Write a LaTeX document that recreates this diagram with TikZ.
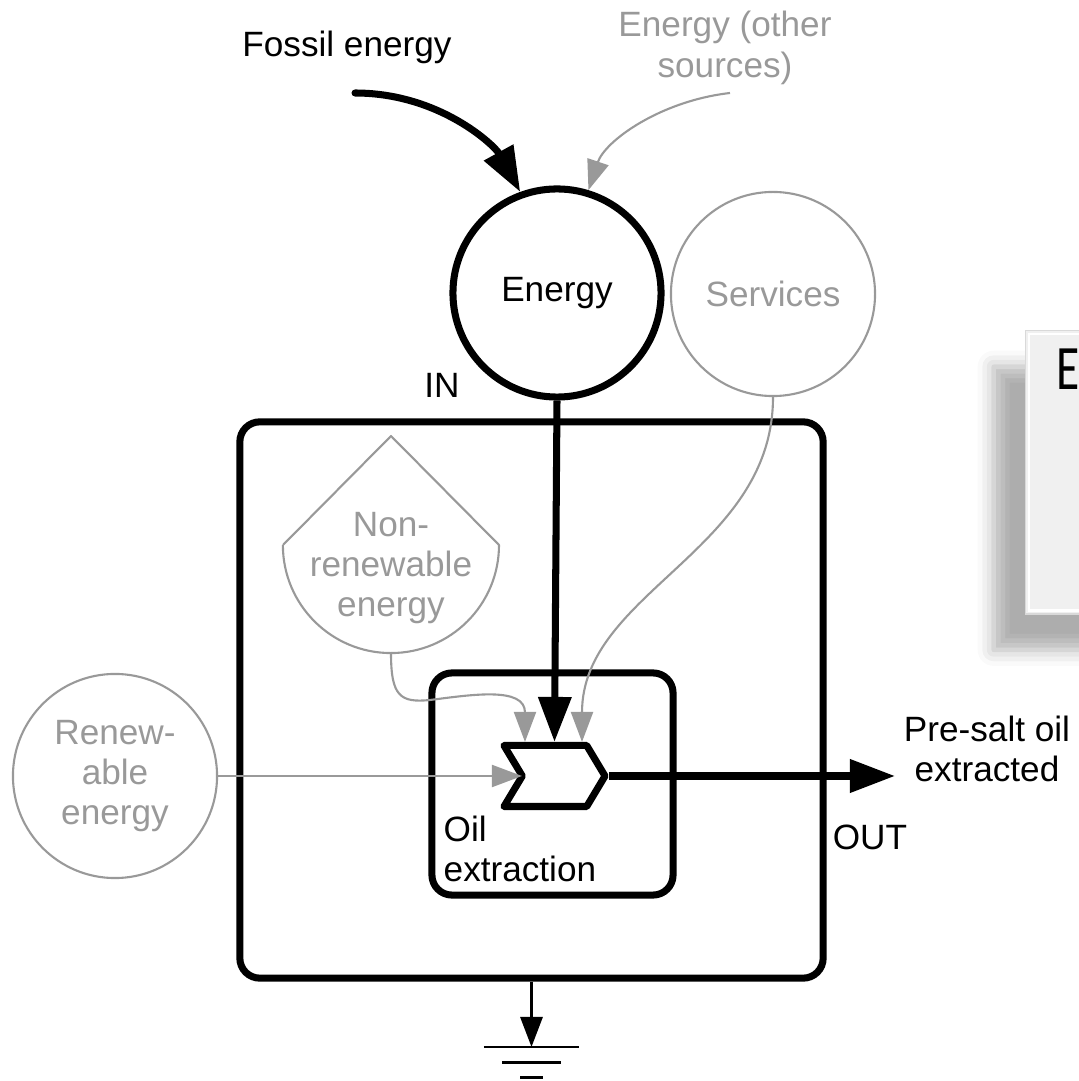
\documentclass[tikz,border=0pt]{standalone}
\usepackage{fontspec}
\setmainfont{Liberation Sans}
\newfontfamily\panelfont{Carlito}
\usepackage{tikz}
\usetikzlibrary{arrows.meta,
           shapes.symbols,            % pour le chevron
           shadows.blur,
           positioning}
\definecolor{flowgray}{RGB}{153,153,153}
\definecolor{panelgray}{RGB}{240,240,240}

\begin{document}
\begin{tikzpicture}[x=0.01cm,y=0.01cm,font=\fontsize{10}{11.5}\selectfont,
  thickflow/.style={line width=2pt,-{Triangle[length=0.45cm,width=0.32cm]}},
  thinflow/.style={flowgray,line width=0.6pt,-{Triangle[length=0.3cm,width=0.22cm]}},
  tank/.style={circle,draw,line width=2pt,minimum size=2.08cm,inner sep=0pt},
  extsource/.style={circle,draw=flowgray,text=flowgray,line width=0.6pt,minimum size=2.04cm,align=center,inner sep=0pt},
  sysbox/.style={draw,line width=2pt,rounded corners=0.2cm,inner sep=0pt}]
\useasboundingbox (0,0) rectangle (1079,1081);
% boites
\node[sysbox,minimum width=5.83cm,minimum height=5.56cm](sys)at(531.5,381){};
\node[sysbox,minimum width=2.41cm,minimum height=2.22cm](proc)at(552.5,297){};
\node[signal,signal to=east,signal from=west,signal pointer angle=118,draw,fill=white,
  line width=2pt,line join=round,minimum width=1.01cm,minimum height=0.61cm,inner sep=0pt](chev)at(554.5,305){};
\coordinate(notch)at([xshift=-0.325cm]chev.center);
\node[anchor=north west,align=left,inner sep=0pt](proclbl)at(443,266){Oil\\extraction};
% reservoirs et sources
\node[tank](en)at(557,788){Energy};
\node[extsource](srv)at(773,787){Services};
\node[extsource](ren)at(115,305){Renew-\\able\\energy};
\node[align=center,inner sep=0pt,text=flowgray](nre)at(391,513){Non-\\renewable\\energy};
\draw[flowgray,line width=0.6pt,line join=round](283,536)--(391,645)--(499,536)
  arc[start angle=0,end angle=-180,radius=1.08cm];
\coordinate(nrebot)at(391,428);
% textes
\node(fossillbl)at(347,1034){Fossil energy};
\node[align=center,text=flowgray](otherlbl)at(725,1033){Energy (other\\sources)};
\node(inlbl)at(442,696){IN};
\node(outlbl)at(870,244){OUT};
\node[align=center](prodlbl)at(987,332){Pre-salt oil\\extracted};
% flux
\coordinate(fossil)at(355,988);
\coordinate(other)at(730,988);
\coordinate(product)at(895,305);
\draw[thickflow,line cap=round](fossil)..controls(440,988)and(495,935)..(en.110);
\draw[thinflow](other)..controls(660,980)and(605,940)..(en.73);
\draw[thickflow](en.south)--(chev.north);
\draw[thinflow](srv.south)..controls(773,530)and(582,489)..([xshift=0.275cm]chev.north);
\draw[thinflow](nrebot)..controls(391,385)and(400,378)..(430,381)
  ..controls(470,386)and(525,395)..([xshift=-0.295cm]chev.north);
\draw[thinflow](ren.east)--(notch);
\draw[thickflow](chev.east)--(product);
% puits
\coordinate(gnd)at(sys.south|-0,34);
\draw[line width=0.85pt,-{Triangle[length=0.3cm,width=0.22cm]}](sys.south)--(gnd);
\draw[line width=0.85pt]([xshift=-0.475cm]gnd)--([xshift=0.475cm]gnd);
\draw[line width=0.85pt]([shift={(-0.29cm,-0.15cm)}]gnd)--([shift={(0.29cm,-0.15cm)}]gnd);
\draw[line width=0.85pt]([shift={(-0.11cm,-0.3cm)}]gnd)--([shift={(0.11cm,-0.3cm)}]gnd);
% panneau a droite
\begin{scope}
\clip(0,0)rectangle(1079,1081);
\node[anchor=north west,fill=panelgray,draw=black!15,line width=0.4pt,inner sep=0pt,
  minimum width=1.05cm,minimum height=2.83cm,
  blur shadow={shadow xshift=-0.32cm,shadow yshift=-0.36cm,shadow blur radius=0.16cm,shadow opacity=32}](panel)at(1025,751){};
\draw[white,line width=0.8pt]([shift={(0.04cm,-0.04cm)}]panel.north west)rectangle([shift={(0.2cm,0.04cm)}]panel.south east);
\node[anchor=north west,inner sep=0pt,xscale=0.75,font=\panelfont\fontsize{18}{22}\selectfont](paneltxt)at(1056,733){E};
\end{scope}
\end{tikzpicture}
\end{document}
